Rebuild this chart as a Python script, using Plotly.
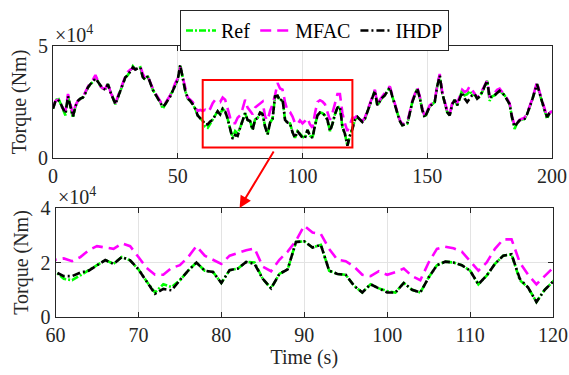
import plotly.graph_objects as go

# ---------------- data (torque in kNm; axis shows x10^4 Nm) ----------------
time_s = list(range(0, 201))

ref_knm = [
    22.0, 25.5, 27.0, 24.5, 22.0, 19.0, 27.5, 23.0, 18.0, 23.0,
    25.5, 26.5, 27.0, 29.0, 31.5, 33.0, 34.0, 36.5, 34.0, 32.0,
    31.0, 30.5, 33.0, 29.5, 27.0, 24.0, 27.0, 30.0, 33.5, 36.0,
    37.0, 39.0, 41.0, 39.5, 40.0, 40.5, 36.0, 35.0, 36.5, 33.0,
    30.5, 28.5, 26.5, 25.0, 22.0, 24.0, 25.5, 27.5, 30.0, 32.5,
    35.0, 41.5, 35.0, 30.0, 26.5, 25.5, 24.0, 22.0, 19.0, 18.0,
    16.6, 14.0, 13.5, 15.3, 17.0, 19.0, 20.9, 19.5, 22.0, 20.8,
    17.5, 13.0, 9.0, 12.0, 11.0, 13.5, 17.0, 20.0, 17.0, 16.5,
    12.5, 17.2, 17.8, 20.2, 20.0, 14.0, 10.5, 15.8, 17.5, 27.5,
    27.8, 25.5, 26.5, 17.0, 15.8, 15.5, 11.5, 9.0, 12.0, 10.5,
    9.5, 9.0, 12.5, 10.0, 9.0, 14.5, 19.0, 20.3, 20.0, 19.0,
    17.0, 12.0, 15.2, 19.5, 22.5, 23.0, 13.5, 10.8, 5.5, 10.0,
    13.0, 17.0, 18.3, 17.2, 16.1, 17.5, 20.5, 23.5, 27.0, 30.0,
    23.5, 25.5, 27.0, 28.0, 29.5, 31.5, 27.5, 24.0, 20.0, 16.5,
    14.6, 15.0, 15.3, 20.0, 25.0, 28.0, 31.0, 27.0, 21.5, 18.0,
    20.5, 23.0, 24.0, 25.0, 32.0, 36.7, 29.0, 24.0, 20.5, 19.0,
    24.0, 26.0, 23.5, 26.5, 30.5, 28.0, 28.5, 30.0, 28.0, 28.5,
    26.5, 27.5, 29.4, 32.0, 34.5, 25.5, 27.5, 28.0, 29.0, 30.0,
    29.0, 28.0, 26.0, 24.0, 18.0, 13.0, 15.5, 16.8, 17.2, 17.5,
    19.5, 22.5, 25.7, 29.5, 33.0, 29.0, 25.0, 21.5, 17.5, 20.0,
    21.0,
]

mfac_knm = [
    22.5, 25.5, 26.0, 24.5, 22.0, 21.0, 28.6, 23.5, 19.5, 23.5,
    25.5, 26.5, 27.5, 29.5, 32.0, 34.0, 35.0, 37.0, 34.5, 32.0,
    31.0, 31.0, 33.5, 29.5, 27.0, 24.5, 27.5, 30.5, 34.0, 36.5,
    38.5, 39.5, 40.0, 39.5, 40.5, 41.0, 37.5, 35.5, 36.5, 33.5,
    31.0, 29.0, 27.0, 25.5, 23.5, 24.5, 26.0, 28.0, 30.5, 33.5,
    35.5, 40.5, 36.0, 31.0, 27.0, 26.0, 25.0, 23.0, 21.0, 21.5,
    21.0, 21.5, 20.5, 22.0, 24.5, 26.0, 25.5, 25.0, 27.0, 26.0,
    22.0, 18.0, 15.5, 15.5, 18.0, 19.0, 22.0, 26.0, 22.5, 21.0,
    19.5, 22.5, 23.5, 24.5, 25.2, 18.5, 16.8, 21.0, 24.0, 28.0,
    33.5, 31.0, 30.5, 25.0, 21.0, 20.5, 18.5, 15.5, 15.0, 16.8,
    15.5, 16.5, 17.8, 15.0, 13.5, 20.0, 25.0, 25.8, 25.2, 24.0,
    20.5, 17.0, 20.0, 25.0, 28.5, 28.5, 20.0, 15.5, 12.0, 15.0,
    18.0, 18.0, 19.0, 17.5, 16.5, 18.0, 21.0, 24.0, 27.5, 30.5,
    24.5, 26.0, 27.5, 28.5, 30.0, 32.0, 28.0, 24.5, 20.5, 17.0,
    15.0, 15.5, 16.0, 20.5, 25.5, 28.5, 31.5, 27.5, 22.0, 18.5,
    21.0, 23.5, 24.5, 25.5, 32.5, 37.5, 29.5, 24.5, 21.0, 19.5,
    24.5, 26.5, 24.5, 27.5, 30.5, 29.5, 30.0, 32.0, 30.5, 29.0,
    27.0, 28.0, 30.0, 32.0, 34.5, 27.5, 28.0, 29.0, 30.5, 31.0,
    29.5, 28.5, 26.5, 24.5, 18.5, 14.5, 16.0, 17.0, 17.5, 18.0,
    20.0, 23.0, 26.0, 30.0, 34.0, 29.5, 25.5, 22.0, 18.5, 20.0,
    21.0,
]

ihdp_knm = [
    22.0, 25.5, 26.0, 24.5, 22.0, 20.0, 27.5, 23.0, 18.5, 23.0,
    25.5, 26.5, 27.0, 29.0, 31.5, 33.0, 34.0, 35.5, 34.0, 32.0,
    31.0, 30.5, 33.0, 29.5, 27.0, 24.0, 27.0, 30.0, 33.5, 36.0,
    37.0, 39.0, 40.5, 39.5, 40.0, 40.5, 36.0, 35.0, 36.5, 33.0,
    30.5, 28.5, 26.5, 25.0, 22.8, 24.0, 25.5, 27.5, 30.0, 32.5,
    35.0, 41.5, 35.0, 30.0, 26.5, 25.5, 24.0, 22.0, 19.0, 18.0,
    16.6, 15.0, 15.0, 16.3, 17.0, 19.0, 20.9, 19.5, 22.0, 20.8,
    17.5, 13.0, 8.5, 10.3, 9.8, 13.5, 17.0, 20.0, 17.0, 16.5,
    12.5, 17.2, 17.8, 20.2, 19.5, 14.0, 10.5, 15.8, 17.5, 27.5,
    27.8, 25.5, 26.5, 17.0, 15.8, 15.5, 11.5, 9.0, 12.0, 10.5,
    9.0, 9.0, 12.5, 10.0, 9.0, 14.5, 19.0, 20.3, 20.0, 19.0,
    17.0, 12.0, 15.2, 19.5, 22.5, 23.0, 14.0, 10.8, 5.5, 10.0,
    13.0, 17.0, 18.3, 17.2, 16.1, 17.5, 20.5, 23.5, 27.0, 30.0,
    23.5, 25.5, 27.0, 28.0, 29.5, 31.5, 27.5, 24.0, 20.0, 16.5,
    14.6, 15.0, 15.3, 20.0, 25.0, 28.0, 31.0, 27.0, 21.5, 18.0,
    20.5, 23.0, 24.0, 25.0, 32.0, 36.7, 29.0, 24.0, 20.5, 19.0,
    24.0, 26.0, 23.5, 26.5, 29.4, 26.5, 25.0, 26.5, 28.0, 28.5,
    26.5, 27.5, 29.4, 32.0, 34.5, 27.0, 27.5, 28.0, 29.0, 30.0,
    29.0, 28.0, 26.0, 24.0, 18.0, 14.0, 15.5, 16.8, 17.2, 17.5,
    19.5, 22.5, 25.7, 29.5, 33.0, 29.0, 25.0, 21.5, 18.3, 20.0,
    21.0,
]

series_names = ["Ref", "MFAC", "IHDP"]
top_xticks = [0, 50, 100, 150, 200]
bottom_xticks = [60, 70, 80, 90, 100, 110, 120]
top_yticks = [0, 50]
top_yticklabels = ["0", "5"]
bottom_yticks = [0, 20, 40]
bottom_yticklabels = ["0", "2", "4"]
zoom_window = [60, 120]
zoom_box_y = [4.7, 34.8]

# ---------------- styling ----------------
FONT = "Liberation Serif"
W, H = 569, 375
TXT = "#262626"
styles = {
    "Ref": dict(color="#00FF00", width=2.6, dash="7px,2px,2px,2px"),
    "MFAC": dict(color="#FF00FF", width=2.6, dash="11px,6px"),
    "IHDP": dict(color="#000000", width=2.6, dash="8px,3px,2px,3px"),
}
data_map = {"Ref": ref_knm, "MFAC": mfac_knm, "IHDP": ihdp_knm}

fig = go.Figure()
for name in series_names:
    fig.add_trace(go.Scatter(x=time_s, y=data_map[name], mode="lines", name=name,
                             line=styles[name], xaxis="x", yaxis="y", showlegend=True))
for name in series_names:
    fig.add_trace(go.Scatter(x=time_s, y=data_map[name], mode="lines", name=name,
                             line=styles[name], xaxis="x2", yaxis="y2", showlegend=False))

def px_x(a, b):
    return [a / W, b / W]

def px_y(top, bottom):
    return [1 - bottom / H, 1 - top / H]

axis_common = dict(
    showline=True, linecolor=TXT, linewidth=1, mirror="allticks",
    ticks="inside", ticklen=5, tickcolor=TXT, automargin=False,
    showgrid=True, gridcolor="#E3E3E3", gridwidth=1, zeroline=False,
    tickfont=dict(family=FONT, size=20, color=TXT),
)
title_font = dict(family=FONT, size=20, color=TXT)

fig.update_layout(
    width=W, height=H,
    margin=dict(l=0, r=0, t=0, b=0),
    paper_bgcolor="white", plot_bgcolor="white",
    font=dict(family=FONT, size=20, color=TXT),
    xaxis=dict(axis_common, domain=px_x(53, 552), range=[0, 200],
               tickvals=top_xticks, anchor="y"),
    yaxis=dict(axis_common, domain=px_y(46, 158), range=[0, 50],
               tickvals=top_yticks, ticktext=top_yticklabels, anchor="x",
               title=dict(text="Torque (Nm)", font=title_font, standoff=6)),
    xaxis2=dict(axis_common, domain=px_x(55.5, 553), range=zoom_window,
                tickvals=bottom_xticks, anchor="y2",
                title=dict(text="Time (s)", font=title_font, standoff=2)),
    yaxis2=dict(axis_common, domain=px_y(208, 317), range=[0, 40],
                tickvals=bottom_yticks, ticktext=bottom_yticklabels, anchor="x2",
                title=dict(text="Torque (Nm)", font=title_font, standoff=6)),
    legend=dict(
        orientation="h", x=180 / W, y=1 - 10 / H,
        xanchor="left", yanchor="top",
        bgcolor="white", bordercolor=TXT, borderwidth=1,
        font=dict(family=FONT, size=20, color="#000000"),
        itemwidth=30, tracegroupgap=0,
    ),
)

fig.add_shape(type="rect", xref="x", yref="y",
              x0=zoom_window[0], x1=zoom_window[1], y0=zoom_box_y[0], y1=zoom_box_y[1],
              line=dict(color="#FF0000", width=2), fillcolor="rgba(0,0,0,0)", layer="above")

fig.add_annotation(xref="x2", yref="y2", x=82.2, y=40, ax=35, ay=-58,
                   showarrow=True, arrowhead=2, arrowsize=1.2, arrowwidth=2,
                   arrowcolor="#FF0000", text="")

for xa, ya in (("x", "y"), ("x2", "y2")):
    fig.add_annotation(xref=f"{xa} domain", yref=f"{ya} domain", x=0, y=1,
                       xanchor="left", yanchor="bottom", showarrow=False,
                       text="×10<sup>4</sup>", font=dict(family=FONT, size=20, color=TXT),
                       yshift=-2)

fig.write_html(
    "out.html",
    config={"displayModeBar": False},
    post_script="document.body.style.margin='0';document.body.style.overflow='hidden';",
)
